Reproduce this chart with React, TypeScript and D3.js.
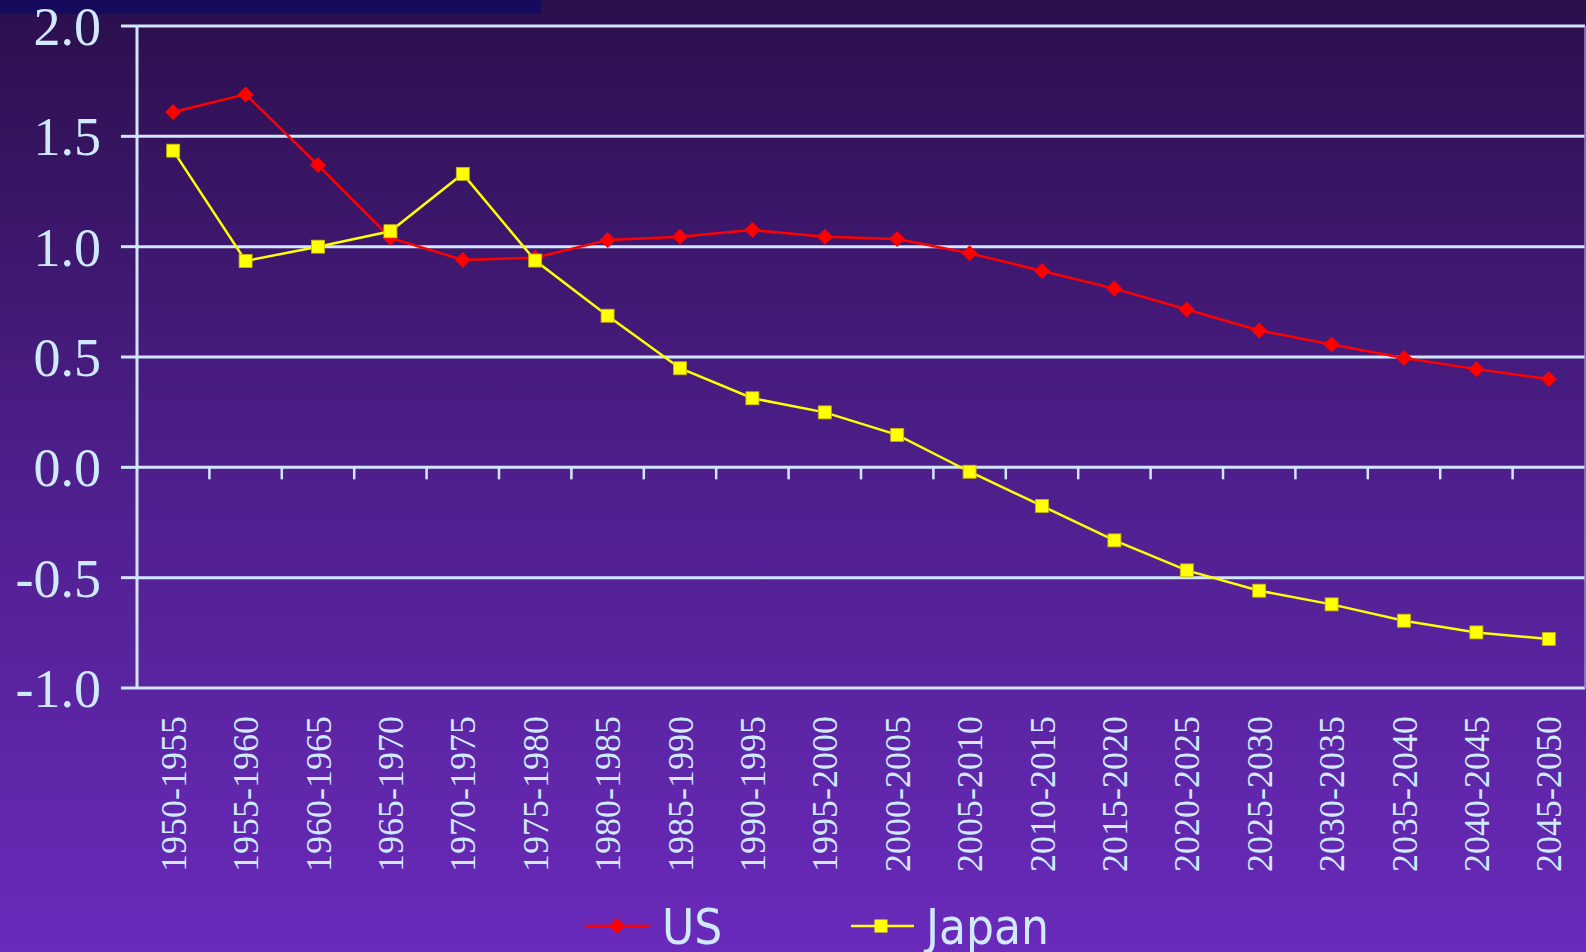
import React from "react";
import * as d3 from "d3";

const categories = [
  "1950-1955", "1955-1960", "1960-1965", "1965-1970", "1970-1975",
  "1975-1980", "1980-1985", "1985-1990", "1990-1995", "1995-2000",
  "2000-2005", "2005-2010", "2010-2015", "2015-2020", "2020-2025",
  "2025-2030", "2030-2035", "2035-2040", "2040-2045", "2045-2050",
];
const usValues = [
  1.61, 1.69, 1.37, 1.04, 0.94, 0.95, 1.03, 1.045, 1.075, 1.045,
  1.035, 0.97, 0.89, 0.81, 0.715, 0.62, 0.557, 0.495, 0.445, 0.40,
];
const japanValues = [
  1.435, 0.935, 1.0, 1.07, 1.33, 0.937, 0.687, 0.449, 0.313, 0.249,
  0.147, -0.02, -0.175, -0.331, -0.467, -0.559, -0.621, -0.695, -0.748, -0.778,
];
const yTicks = [2.0, 1.5, 1.0, 0.5, 0.0, -0.5, -1.0];
const seriesNames = ["US", "Japan"];

const W = 1586;
const H = 952;
const left = 137;
const right = 1585;
const top = 26;
const bottom = 688;
const axisColor = "#d2e6ff";
const textColor = "#cfe9ff";

export default function App() {
  const x = d3.scaleBand<string>().domain(categories).range([left, right]);
  const y = d3.scaleLinear().domain([-1, 2]).range([bottom, top]);
  const cx = (c: string) => (x(c) as number) + x.bandwidth() / 2;

  const line = d3
    .line<number>()
    .x((_, i) => cx(categories[i]))
    .y((v) => y(v));

  const r = 8;
  const diamond = `M0,${-r}L${r},0L0,${r}L${-r},0Z`;
  const sq = 13;

  return (
    <svg
      width={W}
      height={H}
      style={{ position: "absolute", left: 0, top: 0 }}
    >
      <defs>
        <linearGradient id="bg" x1="0" y1="0" x2="0" y2="1">
          <stop offset="0" stopColor="#2b0f4c" />
          <stop offset="0.5" stopColor="#4e1f8c" />
          <stop offset="1" stopColor="#6a2abb" />
        </linearGradient>
      </defs>
      <rect x={0} y={0} width={W} height={H} fill="url(#bg)" />
      <rect x={0} y={0} width={541} height={14} fill="#150a5c" />

      {/* gridlines */}
      {yTicks.map((t) => (
        <g key={t}>
          <line x1={left} x2={right} y1={y(t)} y2={y(t)} stroke={axisColor} strokeWidth={3} />
          <line x1={121} x2={left} y1={y(t)} y2={y(t)} stroke={axisColor} strokeWidth={3} />
          <text
            x={101}
            y={y(t)}
            dy="0.35em"
            textAnchor="end"
            fontFamily="'Liberation Serif', 'Times New Roman', serif"
            fontSize={54}
            fill={textColor}
          >
            {t.toFixed(1)}
          </text>
        </g>
      ))}
      {/* left axis */}
      <line x1={left} x2={left} y1={top} y2={bottom} stroke={axisColor} strokeWidth={3} />
      <line x1={right} x2={right} y1={top} y2={bottom} stroke="#9a8ad0" strokeWidth={1.5} />

      {/* x ticks on zero line */}
      {categories.slice(1).map((c) => (
        <line
          key={"t" + c}
          x1={x(c) as number}
          x2={x(c) as number}
          y1={y(0)}
          y2={y(0) + 12}
          stroke={axisColor}
          strokeWidth={2.5}
        />
      ))}

      {/* x labels */}
      {categories.map((c) => (
        <text
          key={"l" + c}
          transform={`translate(${cx(c)},${716}) rotate(-90)`}
          dy="0.35em"
          textAnchor="end"
          fontFamily="'Liberation Serif', 'Times New Roman', serif"
          fontSize={36}
          fill={textColor}
        >
          {c}
        </text>
      ))}

      {/* lines */}
      <path d={line(usValues) || ""} fill="none" stroke="#ff0000" strokeWidth={2.5} />
      <path d={line(japanValues) || ""} fill="none" stroke="#ffff00" strokeWidth={2.5} />

      {usValues.map((v, i) => (
        <path
          key={"u" + i}
          d={diamond}
          transform={`translate(${cx(categories[i])},${y(v)})`}
          fill="#ff0000"
        />
      ))}
      {japanValues.map((v, i) => (
        <rect
          key={"j" + i}
          x={cx(categories[i]) - sq / 2}
          y={y(v) - sq / 2}
          width={sq}
          height={sq}
          fill="#ffff00"
          stroke="#c8b400"
          strokeWidth={0.8}
        />
      ))}

      {/* legend */}
      <g>
        <line x1={586} x2={649} y1={926} y2={926} stroke="#ff0000" strokeWidth={2.5} />
        <path d={diamond} transform="translate(617,926)" fill="#ff0000" />
        <text
          x={662}
          y={926}
          dy="0.36em"
          fontFamily="'DejaVu Sans Condensed', 'DejaVu Sans', sans-serif"
          fontStretch="condensed"
          fontSize={49}
          fill={textColor}
        >
          {seriesNames[0]}
        </text>
        <line x1={851} x2={914} y1={926} y2={926} stroke="#ffff00" strokeWidth={2.5} />
        <rect x={881 - sq / 2} y={926 - sq / 2} width={sq} height={sq} fill="#ffff00" />
        <text
          x={926}
          y={926}
          dy="0.36em"
          fontFamily="'DejaVu Sans Condensed', 'DejaVu Sans', sans-serif"
          fontStretch="condensed"
          fontSize={49}
          fill={textColor}
        >
          {seriesNames[1]}
        </text>
      </g>
    </svg>
  );
}
